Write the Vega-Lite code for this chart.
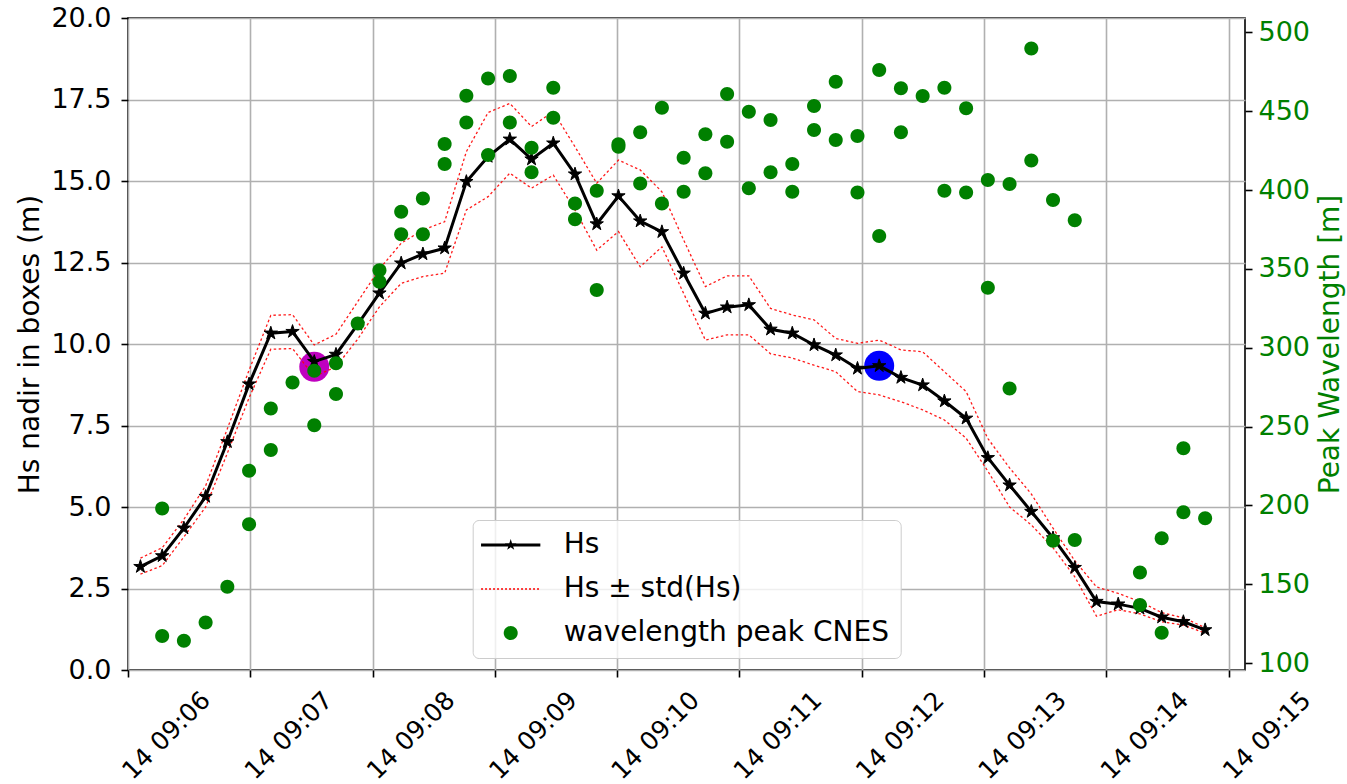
{
  "$schema": "https://vega.github.io/schema/vega-lite/v6.json",
  "width": 1117,
  "height": 652,
  "autosize": {"type": "none"},
  "padding": {"left": 128, "top": 18, "right": 102, "bottom": 114},
  "background": "white",
  "config": {
    "font": "DejaVu Sans",
    "view": {"stroke": "black", "strokeWidth": 1.6},
    "axis": {
      "domain": false,
      "grid": true,
      "gridColor": "#b0b0b0",
      "gridWidth": 1.6,
      "ticks": true,
      "tickColor": "black",
      "tickWidth": 1.6,
      "tickSize": 7,
      "labelFont": "DejaVu Sans",
      "labelFontSize": 27,
      "labelColor": "black",
      "titleFont": "DejaVu Sans",
      "titleFontSize": 28,
      "titleFontWeight": "normal",
      "titleColor": "black",
      "labelOverlap": false,
      "labelBound": false,
      "labelFlush": false
    }
  },
  "datasets": {
    "hs": [
      {"t": "2021-01-14T09:06:06.100Z", "hs": 3.17, "up": 3.43, "lo": 2.94},
      {"t": "2021-01-14T09:06:16.760Z", "hs": 3.50, "up": 3.75, "lo": 3.20},
      {"t": "2021-01-14T09:06:27.420Z", "hs": 4.35, "up": 4.62, "lo": 4.08},
      {"t": "2021-01-14T09:06:38.080Z", "hs": 5.32, "up": 5.65, "lo": 5.00},
      {"t": "2021-01-14T09:06:48.740Z", "hs": 7.00, "up": 7.40, "lo": 6.65},
      {"t": "2021-01-14T09:06:59.400Z", "hs": 8.77, "up": 9.20, "lo": 8.35},
      {"t": "2021-01-14T09:07:10.060Z", "hs": 10.33, "up": 10.88, "lo": 9.84},
      {"t": "2021-01-14T09:07:20.720Z", "hs": 10.38, "up": 10.90, "lo": 9.86},
      {"t": "2021-01-14T09:07:31.380Z", "hs": 9.46, "up": 9.97, "lo": 9.00},
      {"t": "2021-01-14T09:07:42.040Z", "hs": 9.68, "up": 10.30, "lo": 9.30},
      {"t": "2021-01-14T09:07:52.700Z", "hs": 10.60, "up": 11.30, "lo": 10.15},
      {"t": "2021-01-14T09:08:03.360Z", "hs": 11.56, "up": 12.30, "lo": 11.14},
      {"t": "2021-01-14T09:08:14.020Z", "hs": 12.48, "up": 13.09, "lo": 11.86},
      {"t": "2021-01-14T09:08:24.680Z", "hs": 12.76, "up": 13.50, "lo": 12.07},
      {"t": "2021-01-14T09:08:35.340Z", "hs": 12.94, "up": 13.75, "lo": 12.17},
      {"t": "2021-01-14T09:08:46.000Z", "hs": 14.98, "up": 15.90, "lo": 14.11},
      {"t": "2021-01-14T09:08:56.660Z", "hs": 15.75, "up": 17.10, "lo": 14.52},
      {"t": "2021-01-14T09:09:07.320Z", "hs": 16.28, "up": 17.38, "lo": 15.24},
      {"t": "2021-01-14T09:09:17.980Z", "hs": 15.67, "up": 16.67, "lo": 14.78},
      {"t": "2021-01-14T09:09:28.640Z", "hs": 16.16, "up": 17.13, "lo": 15.18},
      {"t": "2021-01-14T09:09:39.300Z", "hs": 15.21, "up": 16.05, "lo": 14.11},
      {"t": "2021-01-14T09:09:49.960Z", "hs": 13.68, "up": 14.93, "lo": 12.88},
      {"t": "2021-01-14T09:10:00.620Z", "hs": 14.54, "up": 15.64, "lo": 13.45},
      {"t": "2021-01-14T09:10:11.280Z", "hs": 13.77, "up": 15.34, "lo": 12.37},
      {"t": "2021-01-14T09:10:21.940Z", "hs": 13.44, "up": 14.67, "lo": 12.98},
      {"t": "2021-01-14T09:10:32.600Z", "hs": 12.17, "up": 13.19, "lo": 11.55},
      {"t": "2021-01-14T09:10:43.260Z", "hs": 10.94, "up": 11.76, "lo": 10.12},
      {"t": "2021-01-14T09:10:53.920Z", "hs": 11.13, "up": 12.09, "lo": 10.28},
      {"t": "2021-01-14T09:11:04.580Z", "hs": 11.20, "up": 12.09, "lo": 10.28},
      {"t": "2021-01-14T09:11:15.240Z", "hs": 10.45, "up": 11.09, "lo": 9.70},
      {"t": "2021-01-14T09:11:25.900Z", "hs": 10.33, "up": 10.89, "lo": 9.57},
      {"t": "2021-01-14T09:11:36.560Z", "hs": 9.97, "up": 10.74, "lo": 9.35},
      {"t": "2021-01-14T09:11:47.220Z", "hs": 9.66, "up": 10.17, "lo": 9.15},
      {"t": "2021-01-14T09:11:57.880Z", "hs": 9.25, "up": 10.02, "lo": 8.54},
      {"t": "2021-01-14T09:12:08.540Z", "hs": 9.33, "up": 10.12, "lo": 8.44},
      {"t": "2021-01-14T09:12:19.200Z", "hs": 8.97, "up": 9.82, "lo": 8.23},
      {"t": "2021-01-14T09:12:29.860Z", "hs": 8.74, "up": 9.76, "lo": 7.98},
      {"t": "2021-01-14T09:12:40.520Z", "hs": 8.25, "up": 9.15, "lo": 7.67},
      {"t": "2021-01-14T09:12:51.180Z", "hs": 7.72, "up": 8.54, "lo": 7.11},
      {"t": "2021-01-14T09:13:01.840Z", "hs": 6.51, "up": 7.10, "lo": 6.10},
      {"t": "2021-01-14T09:13:12.500Z", "hs": 5.67, "up": 6.20, "lo": 5.00},
      {"t": "2021-01-14T09:13:23.160Z", "hs": 4.86, "up": 5.40, "lo": 4.45},
      {"t": "2021-01-14T09:13:33.820Z", "hs": 4.05, "up": 4.35, "lo": 3.75},
      {"t": "2021-01-14T09:13:44.480Z", "hs": 3.14, "up": 3.35, "lo": 2.86},
      {"t": "2021-01-14T09:13:55.140Z", "hs": 2.10, "up": 2.55, "lo": 1.65},
      {"t": "2021-01-14T09:14:05.800Z", "hs": 2.02, "up": 2.35, "lo": 1.85},
      {"t": "2021-01-14T09:14:16.460Z", "hs": 1.89, "up": 2.10, "lo": 1.72},
      {"t": "2021-01-14T09:14:27.120Z", "hs": 1.62, "up": 1.76, "lo": 1.48},
      {"t": "2021-01-14T09:14:37.780Z", "hs": 1.48, "up": 1.60, "lo": 1.38},
      {"t": "2021-01-14T09:14:48.440Z", "hs": 1.23, "up": 1.30, "lo": 1.13}
    ],
    "wl": [
      {"t": "2021-01-14T09:06:16.760Z", "wl": 198.1, "src": "wavelength peak CNES"},
      {"t": "2021-01-14T09:06:16.760Z", "wl": 117.1, "src": "wavelength peak CNES"},
      {"t": "2021-01-14T09:06:27.420Z", "wl": 114.1, "src": "wavelength peak CNES"},
      {"t": "2021-01-14T09:06:38.080Z", "wl": 125.8, "src": "wavelength peak CNES"},
      {"t": "2021-01-14T09:06:48.740Z", "wl": 148.4, "src": "wavelength peak CNES"},
      {"t": "2021-01-14T09:06:59.400Z", "wl": 222.0, "src": "wavelength peak CNES"},
      {"t": "2021-01-14T09:06:59.400Z", "wl": 188.0, "src": "wavelength peak CNES"},
      {"t": "2021-01-14T09:07:10.060Z", "wl": 261.5, "src": "wavelength peak CNES"},
      {"t": "2021-01-14T09:07:10.060Z", "wl": 235.1, "src": "wavelength peak CNES"},
      {"t": "2021-01-14T09:07:20.720Z", "wl": 278.0, "src": "wavelength peak CNES"},
      {"t": "2021-01-14T09:07:31.380Z", "wl": 285.4, "src": "wavelength peak CNES"},
      {"t": "2021-01-14T09:07:31.380Z", "wl": 250.9, "src": "wavelength peak CNES"},
      {"t": "2021-01-14T09:07:42.040Z", "wl": 290.1, "src": "wavelength peak CNES"},
      {"t": "2021-01-14T09:07:42.040Z", "wl": 270.6, "src": "wavelength peak CNES"},
      {"t": "2021-01-14T09:07:52.700Z", "wl": 315.4, "src": "wavelength peak CNES"},
      {"t": "2021-01-14T09:08:03.360Z", "wl": 349.2, "src": "wavelength peak CNES"},
      {"t": "2021-01-14T09:08:03.360Z", "wl": 341.8, "src": "wavelength peak CNES"},
      {"t": "2021-01-14T09:08:14.020Z", "wl": 386.2, "src": "wavelength peak CNES"},
      {"t": "2021-01-14T09:08:14.020Z", "wl": 371.9, "src": "wavelength peak CNES"},
      {"t": "2021-01-14T09:08:24.680Z", "wl": 394.7, "src": "wavelength peak CNES"},
      {"t": "2021-01-14T09:08:24.680Z", "wl": 371.9, "src": "wavelength peak CNES"},
      {"t": "2021-01-14T09:08:35.340Z", "wl": 429.2, "src": "wavelength peak CNES"},
      {"t": "2021-01-14T09:08:35.340Z", "wl": 416.5, "src": "wavelength peak CNES"},
      {"t": "2021-01-14T09:08:46.000Z", "wl": 459.8, "src": "wavelength peak CNES"},
      {"t": "2021-01-14T09:08:46.000Z", "wl": 442.9, "src": "wavelength peak CNES"},
      {"t": "2021-01-14T09:08:56.660Z", "wl": 470.8, "src": "wavelength peak CNES"},
      {"t": "2021-01-14T09:08:56.660Z", "wl": 422.2, "src": "wavelength peak CNES"},
      {"t": "2021-01-14T09:09:07.320Z", "wl": 472.3, "src": "wavelength peak CNES"},
      {"t": "2021-01-14T09:09:07.320Z", "wl": 442.9, "src": "wavelength peak CNES"},
      {"t": "2021-01-14T09:09:17.980Z", "wl": 426.8, "src": "wavelength peak CNES"},
      {"t": "2021-01-14T09:09:17.980Z", "wl": 411.2, "src": "wavelength peak CNES"},
      {"t": "2021-01-14T09:09:28.640Z", "wl": 464.9, "src": "wavelength peak CNES"},
      {"t": "2021-01-14T09:09:28.640Z", "wl": 445.8, "src": "wavelength peak CNES"},
      {"t": "2021-01-14T09:09:39.300Z", "wl": 391.5, "src": "wavelength peak CNES"},
      {"t": "2021-01-14T09:09:39.300Z", "wl": 381.4, "src": "wavelength peak CNES"},
      {"t": "2021-01-14T09:09:49.960Z", "wl": 399.5, "src": "wavelength peak CNES"},
      {"t": "2021-01-14T09:09:49.960Z", "wl": 336.6, "src": "wavelength peak CNES"},
      {"t": "2021-01-14T09:10:00.620Z", "wl": 429.0, "src": "wavelength peak CNES"},
      {"t": "2021-01-14T09:10:00.620Z", "wl": 427.5, "src": "wavelength peak CNES"},
      {"t": "2021-01-14T09:10:11.280Z", "wl": 436.6, "src": "wavelength peak CNES"},
      {"t": "2021-01-14T09:10:11.280Z", "wl": 404.2, "src": "wavelength peak CNES"},
      {"t": "2021-01-14T09:10:21.940Z", "wl": 452.2, "src": "wavelength peak CNES"},
      {"t": "2021-01-14T09:10:21.940Z", "wl": 391.5, "src": "wavelength peak CNES"},
      {"t": "2021-01-14T09:10:32.600Z", "wl": 420.5, "src": "wavelength peak CNES"},
      {"t": "2021-01-14T09:10:32.600Z", "wl": 398.9, "src": "wavelength peak CNES"},
      {"t": "2021-01-14T09:10:43.260Z", "wl": 435.3, "src": "wavelength peak CNES"},
      {"t": "2021-01-14T09:10:43.260Z", "wl": 410.6, "src": "wavelength peak CNES"},
      {"t": "2021-01-14T09:10:53.920Z", "wl": 460.9, "src": "wavelength peak CNES"},
      {"t": "2021-01-14T09:10:53.920Z", "wl": 430.6, "src": "wavelength peak CNES"},
      {"t": "2021-01-14T09:11:04.580Z", "wl": 449.6, "src": "wavelength peak CNES"},
      {"t": "2021-01-14T09:11:04.580Z", "wl": 401.1, "src": "wavelength peak CNES"},
      {"t": "2021-01-14T09:11:15.240Z", "wl": 444.4, "src": "wavelength peak CNES"},
      {"t": "2021-01-14T09:11:15.240Z", "wl": 411.2, "src": "wavelength peak CNES"},
      {"t": "2021-01-14T09:11:25.900Z", "wl": 416.5, "src": "wavelength peak CNES"},
      {"t": "2021-01-14T09:11:25.900Z", "wl": 398.9, "src": "wavelength peak CNES"},
      {"t": "2021-01-14T09:11:36.560Z", "wl": 453.3, "src": "wavelength peak CNES"},
      {"t": "2021-01-14T09:11:36.560Z", "wl": 438.0, "src": "wavelength peak CNES"},
      {"t": "2021-01-14T09:11:47.220Z", "wl": 468.7, "src": "wavelength peak CNES"},
      {"t": "2021-01-14T09:11:47.220Z", "wl": 431.7, "src": "wavelength peak CNES"},
      {"t": "2021-01-14T09:11:57.880Z", "wl": 434.2, "src": "wavelength peak CNES"},
      {"t": "2021-01-14T09:11:57.880Z", "wl": 398.5, "src": "wavelength peak CNES"},
      {"t": "2021-01-14T09:12:08.540Z", "wl": 476.1, "src": "wavelength peak CNES"},
      {"t": "2021-01-14T09:12:08.540Z", "wl": 370.8, "src": "wavelength peak CNES"},
      {"t": "2021-01-14T09:12:19.200Z", "wl": 464.5, "src": "wavelength peak CNES"},
      {"t": "2021-01-14T09:12:19.200Z", "wl": 436.6, "src": "wavelength peak CNES"},
      {"t": "2021-01-14T09:12:29.860Z", "wl": 459.6, "src": "wavelength peak CNES"},
      {"t": "2021-01-14T09:12:40.520Z", "wl": 464.9, "src": "wavelength peak CNES"},
      {"t": "2021-01-14T09:12:40.520Z", "wl": 399.5, "src": "wavelength peak CNES"},
      {"t": "2021-01-14T09:12:51.180Z", "wl": 451.8, "src": "wavelength peak CNES"},
      {"t": "2021-01-14T09:12:51.180Z", "wl": 398.5, "src": "wavelength peak CNES"},
      {"t": "2021-01-14T09:13:01.840Z", "wl": 406.3, "src": "wavelength peak CNES"},
      {"t": "2021-01-14T09:13:01.840Z", "wl": 338.0, "src": "wavelength peak CNES"},
      {"t": "2021-01-14T09:13:12.500Z", "wl": 403.8, "src": "wavelength peak CNES"},
      {"t": "2021-01-14T09:13:12.500Z", "wl": 274.2, "src": "wavelength peak CNES"},
      {"t": "2021-01-14T09:13:23.160Z", "wl": 489.8, "src": "wavelength peak CNES"},
      {"t": "2021-01-14T09:13:23.160Z", "wl": 418.8, "src": "wavelength peak CNES"},
      {"t": "2021-01-14T09:13:33.820Z", "wl": 393.6, "src": "wavelength peak CNES"},
      {"t": "2021-01-14T09:13:33.820Z", "wl": 177.6, "src": "wavelength peak CNES"},
      {"t": "2021-01-14T09:13:44.480Z", "wl": 380.9, "src": "wavelength peak CNES"},
      {"t": "2021-01-14T09:13:44.480Z", "wl": 178.0, "src": "wavelength peak CNES"},
      {"t": "2021-01-14T09:14:16.460Z", "wl": 157.5, "src": "wavelength peak CNES"},
      {"t": "2021-01-14T09:14:16.460Z", "wl": 136.8, "src": "wavelength peak CNES"},
      {"t": "2021-01-14T09:14:27.120Z", "wl": 119.2, "src": "wavelength peak CNES"},
      {"t": "2021-01-14T09:14:27.120Z", "wl": 179.1, "src": "wavelength peak CNES"},
      {"t": "2021-01-14T09:14:37.780Z", "wl": 195.6, "src": "wavelength peak CNES"},
      {"t": "2021-01-14T09:14:37.780Z", "wl": 236.2, "src": "wavelength peak CNES"},
      {"t": "2021-01-14T09:14:48.440Z", "wl": 191.8, "src": "wavelength peak CNES"}
    ]
  },
  "encoding": {
    "x": {
      "field": "t",
      "type": "temporal",
      "scale": {
        "type": "utc",
        "nice": false,
        "domain": [
          {"year": 2021, "month": 1, "date": 14, "hours": 9, "minutes": 6, "seconds": 0, "utc": true},
          {"year": 2021, "month": 1, "date": 14, "hours": 9, "minutes": 15, "seconds": 8, "utc": true}
        ]
      },
      "axis": {
        "orient": "bottom",
        "title": null,
        "values": [
          {"year": 2021, "month": 1, "date": 14, "hours": 9, "minutes": 6, "utc": true},
          {"year": 2021, "month": 1, "date": 14, "hours": 9, "minutes": 7, "utc": true},
          {"year": 2021, "month": 1, "date": 14, "hours": 9, "minutes": 8, "utc": true},
          {"year": 2021, "month": 1, "date": 14, "hours": 9, "minutes": 9, "utc": true},
          {"year": 2021, "month": 1, "date": 14, "hours": 9, "minutes": 10, "utc": true},
          {"year": 2021, "month": 1, "date": 14, "hours": 9, "minutes": 11, "utc": true},
          {"year": 2021, "month": 1, "date": 14, "hours": 9, "minutes": 12, "utc": true},
          {"year": 2021, "month": 1, "date": 14, "hours": 9, "minutes": 13, "utc": true},
          {"year": 2021, "month": 1, "date": 14, "hours": 9, "minutes": 14, "utc": true},
          {"year": 2021, "month": 1, "date": 14, "hours": 9, "minutes": 15, "utc": true}
        ],
        "labelExpr": "utcFormat(datum.value, '%d %H:%M')",
        "labelFontSize": 25,
        "labelAngle": -45,
        "labelAlign": "right",
        "labelBaseline": "top",
        "labelOffset": 69,
        "labelPadding": 10
      }
    }
  },
  "layer": [
    {
      "encoding": {
        "y": {"type": "quantitative", "scale": {"domain": [0, 20], "nice": false, "zero": false},
          "axis": {"orient": "left", "title": "Hs nadir in boxes (m)", "values": [0, 2.5, 5, 7.5, 10, 12.5, 15, 17.5, 20], "format": ".1f", "labelPadding": 10, "titleAngle": 270, "titleAlign": "center", "titleBaseline": "alphabetic", "titleX": -90, "titleY": 326}}
      },
      "layer": [
        {
          "data": {"values": [{"t": "2021-01-14T09:07:31.380Z", "hs": 9.30}]},
          "mark": {"type": "point", "shape": "circle", "filled": true, "color": "#bf00bf", "opacity": 1, "size": 900},
          "encoding": {"y": {"field": "hs"}}
        },
        {
          "data": {"values": [{"t": "2021-01-14T09:12:08.540Z", "hs": 9.33}]},
          "mark": {"type": "point", "shape": "circle", "filled": true, "color": "#0000ff", "opacity": 1, "size": 900},
          "encoding": {"y": {"field": "hs"}}
        },
        {
          "data": {"name": "hs"},
          "mark": {"type": "line", "color": "red", "strokeWidth": 1.3, "strokeDash": [2.5, 2.5], "opacity": 0.9},
          "encoding": {"y": {"field": "up"}}
        },
        {
          "data": {"name": "hs"},
          "mark": {"type": "line", "color": "red", "strokeWidth": 1.3, "strokeDash": [2.5, 2.5], "opacity": 0.9},
          "encoding": {"y": {"field": "lo"}}
        },
        {
          "data": {"name": "hs"},
          "mark": {"type": "line", "color": "black", "strokeWidth": 3},
          "encoding": {"y": {"field": "hs"}}
        },
        {
          "data": {"name": "hs"},
          "mark": {"type": "point", "shape": "M0,-1L0.2245,-0.309L0.951,-0.309L0.363,0.118L0.588,0.809L0,0.382L-0.588,0.809L-0.363,0.118L-0.951,-0.309L-0.2245,-0.309Z", "filled": true, "color": "black", "stroke": "black", "strokeWidth": 1, "opacity": 1, "size": 196},
          "encoding": {"y": {"field": "hs"}}
        }
      ]
    },
    {
      "data": {"name": "wl"},
      "mark": {"type": "point", "filled": true, "opacity": 1, "size": 784},
      "encoding": {
        "y": {"field": "wl", "type": "quantitative", "scale": {"domain": [95.6, 509.1], "nice": false, "zero": false},
          "axis": {"orient": "right", "title": "Peak Wavelength [m]", "titleColor": "green", "labelColor": "green", "values": [100, 150, 200, 250, 300, 350, 400, 450, 500], "format": "d", "labelPadding": 6, "titleAngle": 270, "titleAlign": "center", "titleBaseline": "alphabetic", "titleX": 93, "titleY": 326}},
        "color": {
          "field": "src",
          "type": "nominal",
          "scale": {"domain": ["Hs", "Hs ± std(Hs)", "wavelength peak CNES"], "range": ["black", "red", "green"]},
          "legend": {
            "title": null,
            "orient": "none",
            "legendX": 344.7,
            "legendY": 502,
            "padding": 11,
            "rowPadding": 16,
            "symbolSize": 784,
            "symbolStrokeWidth": 0,
            "symbolOpacity": 1,
            "symbolOffset": 13,
            "labelOffset": 39,
            "labelFont": "DejaVu Sans",
            "labelFontSize": 28,
            "labelColor": "black",
            "labelLimit": 600,
            "strokeColor": "#cccccc",
            "fillColor": "rgba(255,255,255,0.8)",
            "cornerRadius": 6
          }
        },
        "shape": {
          "field": "src",
          "type": "nominal",
          "scale": {
            "domain": ["Hs", "Hs ± std(Hs)", "wavelength peak CNES"],
            "range": [
              "M-2.118,-0.107H2.118V0.107H-2.118ZM0,-0.4286L0.0962,-0.1324L0.4076,-0.1324L0.1557,0.0506L0.2519,0.3467L0,0.1637L-0.2519,0.3467L-0.1557,0.0506L-0.4076,-0.1324L-0.0962,-0.1324Z",
              "M-2.118,-0.0464h0.143v0.0928h-0.143ZM-1.832,-0.0464h0.143v0.0928h-0.143ZM-1.547,-0.0464h0.143v0.0928h-0.143ZM-1.261,-0.0464h0.143v0.0928h-0.143ZM-0.975,-0.0464h0.143v0.0928h-0.143ZM-0.69,-0.0464h0.143v0.0928h-0.143ZM-0.404,-0.0464h0.143v0.0928h-0.143ZM-0.118,-0.0464h0.143v0.0928h-0.143ZM0.167,-0.0464h0.143v0.0928h-0.143ZM0.453,-0.0464h0.143v0.0928h-0.143ZM0.739,-0.0464h0.143v0.0928h-0.143ZM1.024,-0.0464h0.143v0.0928h-0.143ZM1.31,-0.0464h0.143v0.0928h-0.143ZM1.596,-0.0464h0.143v0.0928h-0.143ZM1.881,-0.0464h0.143v0.0928h-0.143Z",
              "M0.5,0A0.5,0.5,0,1,1,-0.5,0A0.5,0.5,0,1,1,0.5,0Z"
            ]
          }
        }
      }
    }
  ],
  "resolve": {"scale": {"y": "independent"}}
}
